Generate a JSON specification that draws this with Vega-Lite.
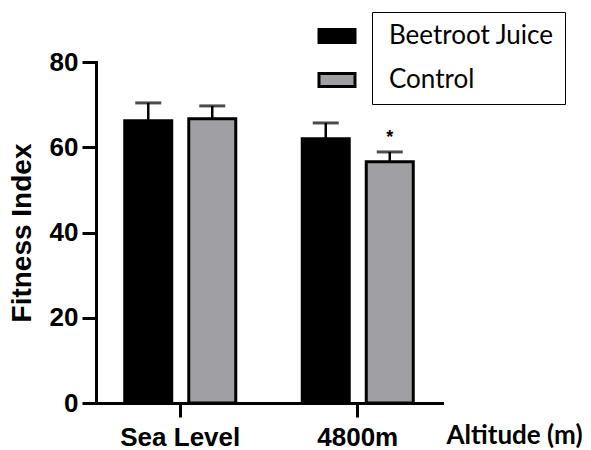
{
  "$schema": "https://vega.github.io/schema/vega-lite/v6.json",
  "width": 346,
  "height": 341,
  "autosize": "none",
  "padding": {"left": 96, "top": 62, "right": 149, "bottom": 47},
  "background": "white",
  "config": {
    "view": {"stroke": null},
    "font": "Liberation Sans",
    "axis": {
      "domainColor": "black", "domainWidth": 3, "domainCap": "square",
      "tickColor": "black", "tickWidth": 3, "tickSize": 14,
      "labelFont": "Liberation Sans", "labelFontWeight": "bold", "labelFontSize": 26, "labelColor": "black",
      "grid": false,
      "titleFont": "Liberation Sans", "titleFontWeight": "bold", "titleColor": "black"
    },
    "axisY": {"titleFontSize": 28, "labelPadding": 4, "titlePadding": 13},
    "axisX": {"labelAngle": 0, "labelPadding": 7, "titleFont": "Lato", "titleFontSize": 26,
      "titleAlign": "left", "titleX": 350, "titleY": 40, "titleBaseline": "alphabetic"}
  },
  "data": {"values": [
    {"altitude": "Sea Level", "group": "Beetroot Juice", "value": 66.2, "upper": 70.4, "sig": ""},
    {"altitude": "Sea Level", "group": "Control", "value": 66.7, "upper": 69.7, "sig": ""},
    {"altitude": "4800m", "group": "Beetroot Juice", "value": 62.0, "upper": 65.7, "sig": ""},
    {"altitude": "4800m", "group": "Control", "value": 56.6, "upper": 58.9, "sig": "*"}
  ]},
  "encoding": {
    "x": {"field": "altitude", "type": "nominal", "sort": ["Sea Level", "4800m"], "title": "Altitude (m)",
      "scale": {"paddingInner": 0.3746, "paddingOuter": 0.162}},
    "xOffset": {"field": "group", "type": "nominal", "sort": ["Beetroot Juice", "Control"],
      "scale": {"paddingInner": 0.266, "paddingOuter": 0}}
  },
  "layer": [
    {
      "mark": {"type": "rule", "color": "black", "strokeWidth": 2.5},
      "encoding": {
        "y": {"field": "value", "type": "quantitative", "title": "Fitness Index", "scale": {"domain": [0, 80]},
          "axis": {"values": [0, 20, 40, 60, 80]}},
        "y2": {"field": "upper"}
      }
    },
    {
      "mark": {"type": "tick", "color": "black", "thickness": 3, "size": 26},
      "encoding": {
        "y": {"field": "upper", "type": "quantitative", "title": "Fitness Index", "axis": {"values": [0, 20, 40, 60, 80]}}
      }
    },
    {
      "mark": {"type": "bar", "stroke": "black", "strokeWidth": 3},
      "encoding": {
        "y": {"field": "value", "type": "quantitative", "title": "Fitness Index", "axis": {"values": [0, 20, 40, 60, 80]}},
        "color": {"field": "group", "type": "nominal", "sort": ["Beetroot Juice", "Control"],
          "scale": {"domain": ["Beetroot Juice", "Control"], "range": ["#000000", "#a09fa4"]},
          "legend": {
            "orient": "none", "legendX": 276, "legendY": -50, "title": null,
            "direction": "vertical",
            "symbolType": "M-3.6,-1.3H3.6V1.3H-3.6Z", "symbolSize": 100,
            "symbolStrokeColor": "black", "symbolStrokeWidth": 3, "symbolOpacity": 1,
            "symbolOffset": -59, "labelOffset": 39,
            "labelFont": "Lato", "labelFontSize": 26, "labelColor": "black", "labelLimit": 400,
            "labelExpr": "datum.label + '   '",
            "strokeColor": "black",
            "padding": 11, "rowPadding": 18
          }
        }
      }
    },
    {
      "mark": {"type": "text", "font": "Liberation Sans", "fontWeight": "bold", "fontSize": 18, "dy": -14, "baseline": "middle", "color": "black"},
      "encoding": {
        "y": {"field": "upper", "type": "quantitative", "title": "Fitness Index", "axis": {"values": [0, 20, 40, 60, 80]}},
        "text": {"field": "sig"}
      }
    }
  ]
}
